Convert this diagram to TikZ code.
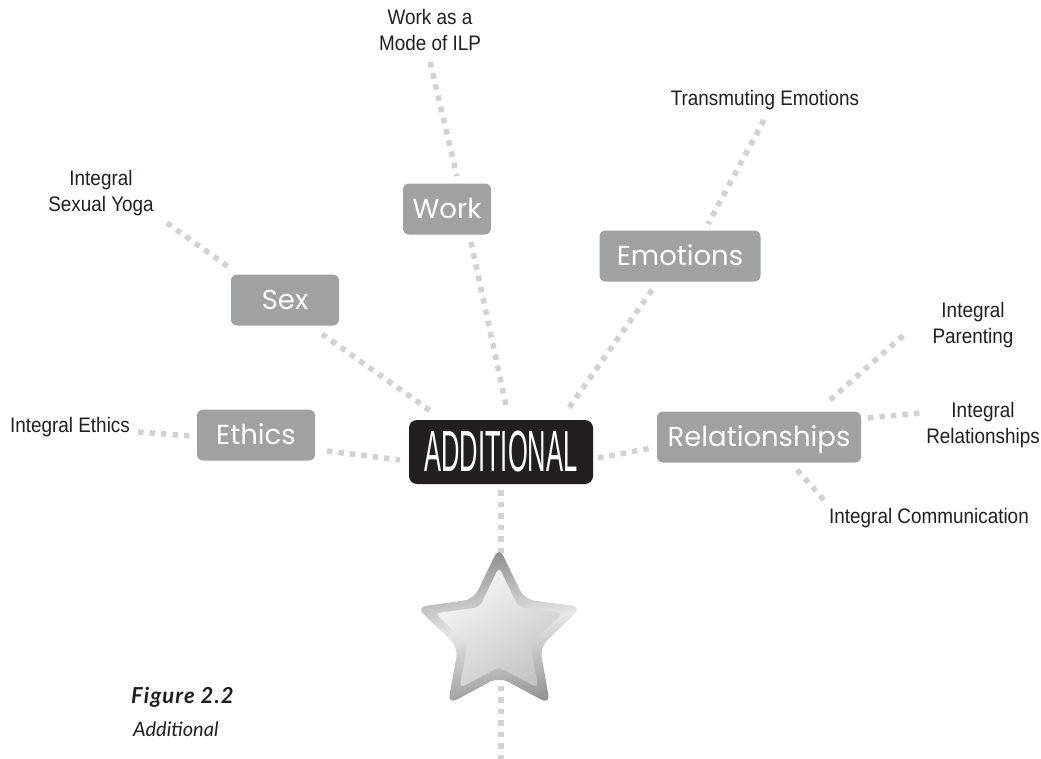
\documentclass[tikz,border=0pt]{standalone}
\usepackage{fontspec}
\setmainfont{Liberation Sans}
\newfontfamily\boxfont{Poppins}
\newfontfamily\narrowfont[FakeStretch=0.9]{Liberation Sans}
\newfontfamily\addfont[FakeStretch=0.44]{Liberation Sans}
\newfontfamily\capfont{Lato}
\newfontfamily\capfontwide[LetterSpace=5]{Lato}
\usetikzlibrary{calc}
\definecolor{boxgray}{HTML}{A0A1A3}
\definecolor{ink}{HTML}{231F20}
\definecolor{dotgray}{HTML}{D1D2D3}
\definecolor{starDark}{HTML}{878787}
\definecolor{starLight}{HTML}{E6E6E6}
\definecolor{starInA}{HTML}{F7F7F7}
\definecolor{starInB}{HTML}{C4C4C4}
\begin{document}
\begin{tikzpicture}[x=1pt,y=-1pt,
  gbox/.style={fill=boxgray, rounded corners=6pt, text=white,
    font=\boxfont\fontsize{27.5}{30}\selectfont, minimum height=51pt,
    inner sep=0pt, text height=19pt, text depth=0pt},
  addbox/.style={fill=ink, rounded corners=8pt, text=white,
    minimum width=184pt, minimum height=64pt, inner sep=0pt},
  lbl/.style={text=ink, font=\narrowfont\fontsize{21}{26}\selectfont,
    align=center, inner sep=0pt},
  conn/.style={draw=dotgray, line width=5.5pt, dash pattern=on 5.5pt off 6pt},
  capstyle/.style={text=ink, anchor=west, inner sep=0pt}
]
\useasboundingbox[fill=white] (0,0) rectangle (1041,758);

% main nodes
\node[addbox] (add) at (501,452) {\addfont\fontsize{58}{60}\selectfont ADDITIONAL};
\node[gbox, minimum width=88pt]  (work) at (447,209) {Work};
\node[gbox, minimum width=161pt] (emo)  at (680,256) {Emotions};
\node[gbox, minimum width=108pt] (sex)  at (285,300) {Sex};
\node[gbox, minimum width=118pt] (eth)  at (256,435) {Ethics};
\node[gbox, minimum width=204pt] (rel)  at (759,437) {Relationships};

% labels
\node[lbl] (worklbl)  at (430,30)  {Work as a\\Mode of ILP};
\node[lbl] (translbl) at (765,100) {Transmuting Emotions};
\node[lbl] (sexlbl)   at (101,193) {Integral\\Sexual Yoga};
\node[lbl] (ethlbl)   at (70,427)  {Integral Ethics};
\node[lbl] (parlbl)   at (973,325) {Integral\\Parenting};
\node[lbl] (irellbl)  at (983,425) {Integral\\Relationships};
\node[lbl] (commlbl)  at (929,518) {Integral Communication};

\coordinate (bottomend) at (501,760);

% connectors
\draw[conn] ($(worklbl)+(0,32)$) -- ($(work)+(10,-33)$);
\draw[conn] ($(work)+(24,33)$) -- ($(add)+(6,-42)$);
\draw[conn] ($(translbl)+(-1,20)$) -- ($(emo)+(28,-32)$);
\draw[conn] ($(emo)+(-28,34)$) -- ($(add)+(65,-40)$);
\draw[conn] ($(sexlbl)+(66,30)$) -- ($(sex)+(-55,-32)$);
\draw[conn] ($(sex)+(37,34)$) -- ($(add)+(-69,-40)$);
\draw[conn] ($(ethlbl)+(68,5)$) -- ($(eth)+(-64,1)$);
\draw[conn] ($(eth)+(71,16)$) -- ($(add)+(-101,8)$);
\draw[conn] ($(add)+(97,6)$) -- ($(rel)+(-107,11)$);
\draw[conn] ($(rel)+(71,-37)$) -- ($(parlbl)+(-66,7)$);
\draw[conn] ($(rel)+(109,-19)$) -- ($(irellbl)+(-63,-12)$);
\draw[conn] ($(rel)+(38,33)$) -- ($(commlbl)+(-105,-18)$);
\draw[conn] ($(add)+(0,38)$) -- (bottomend);

% star
\begin{scope}[shift={(499,634)}]
  \shade[rounded corners=10pt, left color=starDark, right color=starDark!90, middle color=starLight, shading angle=10]
    (-90:87) -- (-54:43) -- (-18:87) -- (18:43) -- (54:87) -- (90:43)
    -- (126:87) -- (162:43) -- (198:87) -- (234:43) -- cycle;
  \shade[rounded corners=5pt, top color=starInA, bottom color=starInB, shading angle=35]
    (-90:67) -- (-54:33) -- (-18:67) -- (18:33) -- (54:67) -- (90:33)
    -- (126:67) -- (162:33) -- (198:67) -- (234:33) -- cycle;
\end{scope}

% caption
\node[capstyle, font=\capfontwide\fontsize{22}{24}\selectfont\bfseries\itshape] (fig) at (131,697) {Figure 2.2};
\node[capstyle, font=\capfont\fontsize{20}{24}\selectfont\itshape] (figsub) at (133,729) {Additional};
\end{tikzpicture}
\end{document}
